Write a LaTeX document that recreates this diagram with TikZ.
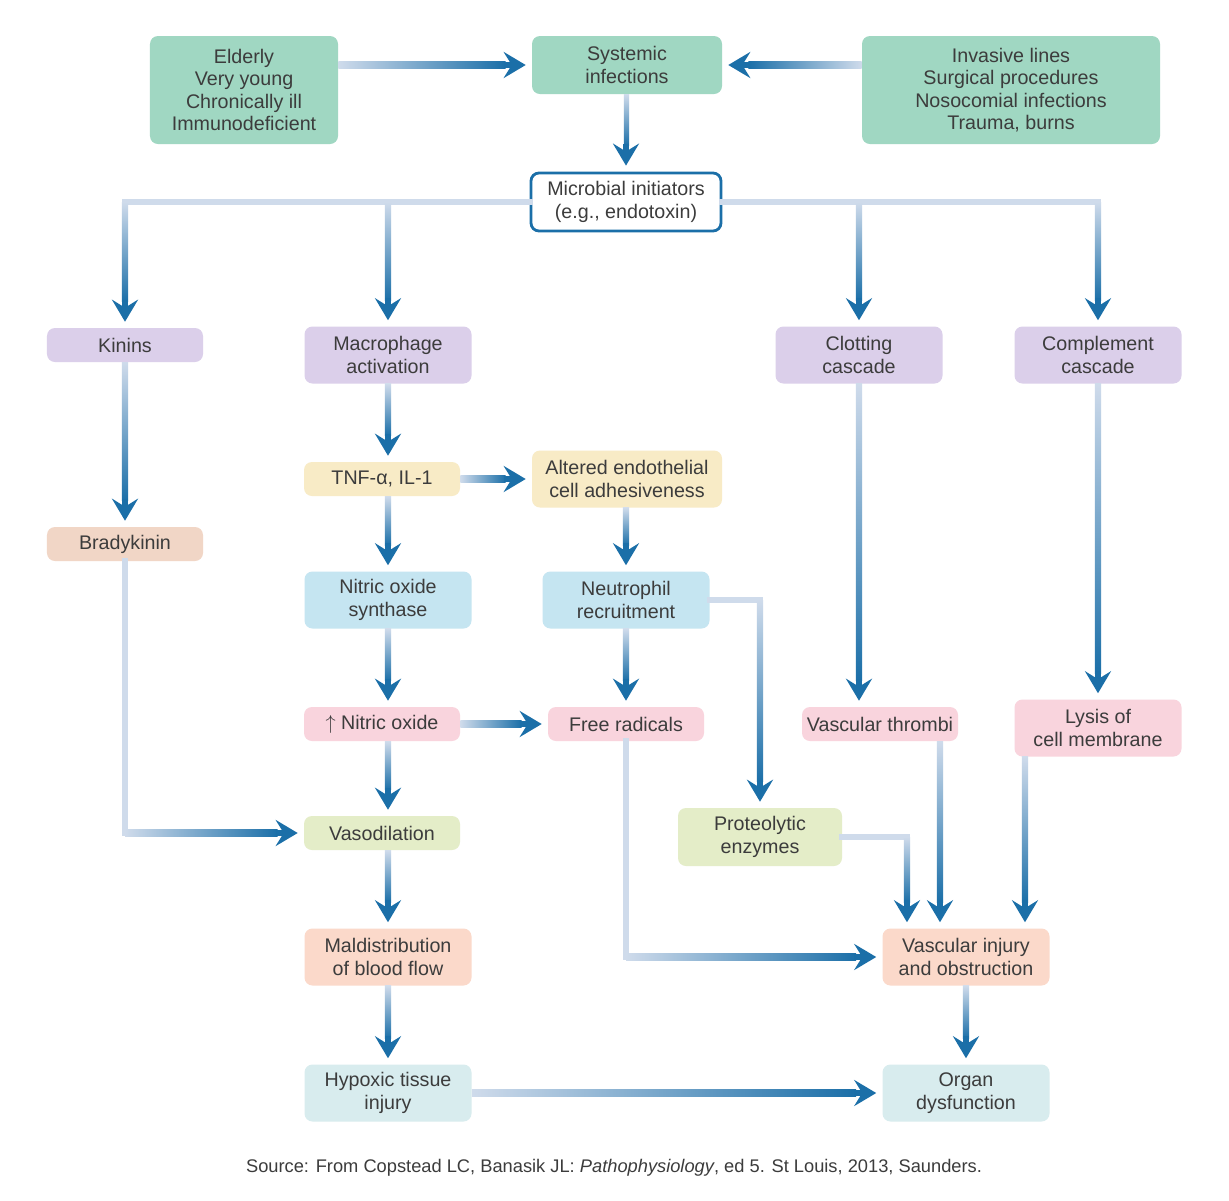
\documentclass[tikz,border=0pt]{standalone}
\usepackage{fontspec}
\setmainfont{Liberation Sans}
\usetikzlibrary{arrows.meta,calc}
\definecolor{deep}{HTML}{1B6FA8}
\definecolor{pale}{HTML}{CFDBEB}
\definecolor{ink}{HTML}{3C3C3C}
\definecolor{mint}{HTML}{A0D7C2}
\definecolor{lilac}{HTML}{DBCFEA}
\definecolor{cream}{HTML}{F8EBC6}
\definecolor{peach}{HTML}{F1D6C6}
\definecolor{sky}{HTML}{C5E5F1}
\definecolor{rose}{HTML}{F9D4DD}
\definecolor{lime}{HTML}{E4EDC8}
\definecolor{salmon}{HTML}{FBD9CA}
\definecolor{frost}{HTML}{D8ECEE}
\tikzset{>=Stealth}
\tikzset{
  cell/.style={rounded corners=2mm, align=center, inner sep=0pt, text=ink,
    font=\fontsize{14}{16}\selectfont, minimum width=41.75mm, minimum height=14.25mm},
  slimcell/.style={cell, minimum width=39mm, minimum height=8.5mm},
  feed/.style={pale, line width=1.6mm, line cap=rect},
  headflow/.style={deep, line width=1.6mm, -{Stealth[length=5.5mm,width=6.5mm,inset=2mm]}}
}
% shaded shaft + head, #1 start, #2 target anchor
\newcommand{\flowdown}[2]{%
  \shade[top color=pale, bottom color=deep] ($(#1)+(-0.8mm,0)$) rectangle ($(#2)+(0.8mm,6.5mm)$);
  \draw[headflow] ($(#2)+(0,7mm)$) -- ($(#2)+(0,1.5mm)$);}
\newcommand{\flowright}[2]{%
  \shade[left color=pale, right color=deep] ($(#1)+(0,0.8mm)$) rectangle ($(#2)+(-6.5mm,-0.8mm)$);
  \draw[headflow] ($(#2)+(-7mm,0)$) -- ($(#2)+(-1.5mm,0)$);}
\newcommand{\flowleft}[2]{%
  \shade[left color=deep, right color=pale] ($(#2)+(6.5mm,0.8mm)$) rectangle ($(#1)+(0,-0.8mm)$);
  \draw[headflow] ($(#2)+(7mm,0)$) -- ($(#2)+(1.5mm,0)$);}

\begin{document}
\begin{tikzpicture}[x=0.25mm, y=-0.25mm]
  \fill[white] (0,0) rectangle (1229,1200);
  % causes
  \node[cell, fill=mint, minimum width=47mm, minimum height=27mm] (eld) at (244,90) {Elderly\\Very young\\Chronically ill\\Immunodeficient};
  \node[cell, fill=mint, minimum width=47.5mm, minimum height=14.5mm] (sys) at (627,65) {Systemic\\infections};
  \node[cell, fill=mint, minimum width=74.5mm, minimum height=27mm] (inv) at (1011,90) {Invasive lines\\Surgical procedures\\Nosocomial infections\\Trauma, burns};
  \node[cell, fill=white, draw=deep, line width=0.7mm, minimum width=47.5mm, minimum height=14.5mm] (mic) at (626,202) {Microbial initiators\\(e.g., endotoxin)};
  % mediators
  \node[slimcell, fill=lilac] (kin) at (125,345) {Kinins};
  \node[cell, fill=lilac] (mac) at (388,355) {Macrophage\\activation};
  \node[cell, fill=lilac] (clot) at (859,355) {Clotting\\cascade};
  \node[cell, fill=lilac] (comp) at (1098,355) {Complement\\cascade};
  \node[slimcell, fill=cream] (tnf) at (382,479) {TNF-α, IL-1};
  \node[cell, fill=cream, minimum width=47.5mm] (alt) at (627,479) {Altered endothelial\\cell adhesiveness};
  \node[slimcell, fill=peach] (brady) at (125,544) {Bradykinin};
  \node[cell, fill=sky] (nos) at (388,600) {Nitric oxide\\synthase};
  \node[cell, fill=sky] (neu) at (626,600) {Neutrophil\\recruitment};
  \node[slimcell, fill=rose] (nit) at (382,724) {$\uparrow$ Nitric oxide};
  \node[slimcell, fill=rose] (free) at (626,724) {Free radicals};
  \node[slimcell, fill=rose] (thr) at (880,724) {Vascular thrombi};
  \node[cell, fill=rose] (lys) at (1098,728) {Lysis of\\cell membrane};
  \node[slimcell, fill=lime] (vaso) at (382,833) {Vasodilation};
  \node[cell, fill=lime, minimum width=41mm, minimum height=14.5mm] (prot) at (760,837) {Proteolytic\\enzymes};
  % outcomes
  \node[cell, fill=salmon] (mal) at (388,957) {Maldistribution\\of blood flow};
  \node[cell, fill=salmon] (inj) at (966,957) {Vascular injury\\and obstruction};
  \node[cell, fill=frost] (hyp) at (388,1093) {Hypoxic tissue\\injury};
  \node[cell, fill=frost] (org) at (966,1093) {Organ\\dysfunction};
  \node[text=ink, font=\fontsize{13}{15}\selectfont] (src) at (614,1168) {Source: From Copstead LC, Banasik JL: \textit{Pathophysiology}, ed 5. St Louis, 2013, Saunders.};

  \coordinate (pj) at (907,0);
  \coordinate (tj) at (940,0);
  \coordinate (lj) at (1025,0);

  % top
  \flowright{eld.east |- sys.west}{sys.west}
  \flowleft{inv.west |- sys.east}{sys.east}
  \flowdown{sys.south}{mic.north}
  \draw[feed] (mic.west) -- (mic.west -| kin.north);
  \draw[feed] (mic.east) -- (mic.east -| comp.north);
  \flowdown{mic.west -| kin.north}{kin.north}
  \flowdown{mic.west -| mac.north}{mac.north}
  \flowdown{mic.east -| clot.north}{clot.north}
  \flowdown{mic.east -| comp.north}{comp.north}
  % left columns
  \flowdown{kin.south}{brady.north}
  \flowdown{mac.south}{mac.south |- tnf.north}
  \flowright{tnf.east}{alt.west}
  \flowdown{nos.north |- tnf.south}{nos.north}
  \flowdown{neu.north |- alt.south}{neu.north}
  \flowdown{nos.south}{nos.south |- nit.north}
  \flowright{nit.east}{free.west}
  \flowdown{neu.south}{free.north}
  \draw[feed] (neu.east) -- (neu.east -| prot.north);
  \flowdown{neu.east -| prot.north}{prot.north}
  \flowdown{nos.south |- nit.south}{nos.south |- vaso.north}
  \draw[feed] (brady.south) -- (brady.south |- vaso.west);
  \flowright{brady.south |- vaso.west}{vaso.west}
  % right columns
  \flowdown{clot.south}{clot.south |- thr.north}
  \flowdown{comp.south}{lys.north}
  \draw[feed] (free.south) -- (free.south |- inj.west);
  \flowright{free.south |- inj.west}{inj.west}
  \draw[feed] (prot.east) -- (prot.east -| pj);
  \flowdown{prot.east -| pj}{inj.north -| pj}
  \flowdown{thr.south -| tj}{inj.north -| tj}
  \flowdown{lys.south -| lj}{inj.north -| lj}
  % bottom
  \flowdown{nos.south |- vaso.south}{mal.north}
  \flowdown{mal.south}{hyp.north}
  \flowdown{inj.south}{org.north}
  \flowright{hyp.east}{org.west}
\end{tikzpicture}
\end{document}
